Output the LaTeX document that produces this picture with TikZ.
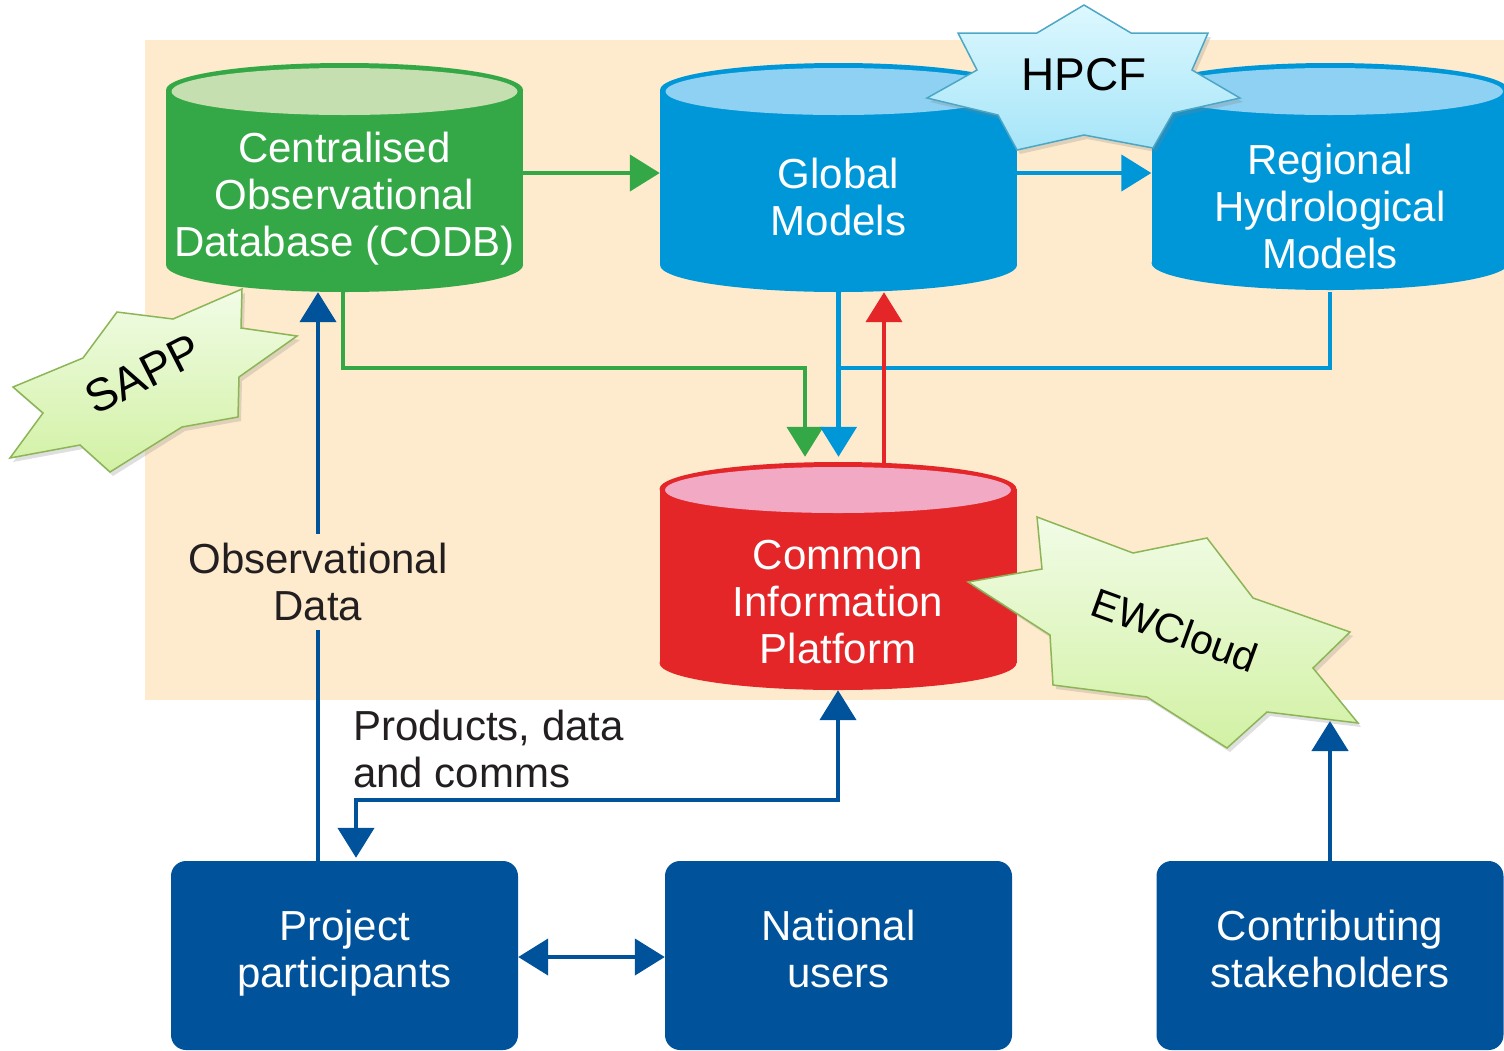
\documentclass[tikz,border=0pt]{standalone}
\usepackage{fontspec}
\setmainfont{Liberation Sans}
\usetikzlibrary{arrows.meta,shadows,calc}
\definecolor{bgbeige}{HTML}{FEEBCD}
\definecolor{cgreen}{HTML}{34A846}
\definecolor{lgreen}{HTML}{C6DFB1}
\definecolor{cblue}{HTML}{0097D9}
\definecolor{lblue}{HTML}{8FD1F3}
\definecolor{cred}{HTML}{E52629}
\definecolor{lpink}{HTML}{F2AAC4}
\definecolor{dkblue}{HTML}{00529B}
\definecolor{txtdark}{HTML}{231F20}
\definecolor{stargreenA}{HTML}{F1FCE6}
\definecolor{stargreenB}{HTML}{D2F1A4}
\definecolor{stargreenD}{HTML}{8CB557}
\definecolor{starblueA}{HTML}{DDF8FF}
\definecolor{starblueB}{HTML}{A6E5F8}
\definecolor{starblueD}{HTML}{4DA7C4}
\begin{document}
\begin{tikzpicture}[x=1pt,y=-1pt,
  lbl/.style={font=\fontsize{42}{47}\selectfont, text=txtdark, align=center, inner sep=0pt},
  wtxt/.style={font=\fontsize{42}{47}\selectfont, text=white, align=center, inner sep=0pt},
  cylbox/.style={minimum width=357pt, minimum height=229pt, inner sep=0pt},
  ubox/.style={fill=dkblue, rounded corners=15pt, minimum width=347pt, minimum height=189pt, inner sep=0pt},
  conn/.style={line width=4.5pt},
  arr/.style={-{Triangle[length=30pt,width=36pt]}},
  dblarr/.style={{Triangle[length=30pt,width=36pt]}-{Triangle[length=30pt,width=36pt]}},
  gstar/.style={draw=stargreenD, line width=1.5pt, top color=stargreenA, bottom color=stargreenB,
     drop shadow={shadow xshift=3pt, shadow yshift=-4pt, opacity=0.25}},
  bstar/.style={draw=starblueD, line width=1.5pt, top color=starblueA, bottom color=starblueB,
     drop shadow={shadow xshift=3pt, shadow yshift=-4pt, opacity=0.25}},
  startxt/.style={text=black, inner sep=0pt}
]
\useasboundingbox (0,0) rectangle (1504,1050);
% background panel
\fill[bgbeige] (145,40) rectangle (1510,700);

% ---- cylinders ----
% CODB
\fill[cgreen] (166,90) rectangle (523,265);
\fill[cgreen] (344.5,90) ellipse[x radius=178.5, y radius=27];
\fill[cgreen] (344.5,265) ellipse[x radius=178.5, y radius=27];
\fill[lgreen] (344.5,91.5) ellipse[x radius=173, y radius=23.5];
% Global Models
\fill[cblue] (660,90) rectangle (1017,265);
\fill[cblue] (838.5,90) ellipse[x radius=178.5, y radius=27];
\fill[cblue] (838.5,265) ellipse[x radius=178.5, y radius=27];
\fill[lblue] (838.5,91.5) ellipse[x radius=173, y radius=23.5];
% Regional Hydrological Models
\fill[cblue] (1151.5,90) rectangle (1508.5,263);
\fill[cblue] (1330,90) ellipse[x radius=178.5, y radius=27];
\fill[cblue] (1330,263) ellipse[x radius=178.5, y radius=27];
\fill[lblue] (1330,91.5) ellipse[x radius=173, y radius=23.5];
% Common Information Platform
\fill[cred] (659.5,489) rectangle (1016.5,663);
\fill[cred] (838,489) ellipse[x radius=178.5, y radius=27];
\fill[cred] (838,663) ellipse[x radius=178.5, y radius=27];
\fill[lpink] (838,490) ellipse[x radius=173, y radius=23];

% named boxes of the cylinders
\node[cylbox] (codb) at (344.5,177.5) {};
\node[cylbox] (gm) at (838.5,177.5) {};
\node[cylbox] (rhm) at (1330,177.5) {};
\node[cylbox, minimum height=228pt] (cip) at (838,576) {};

\node[wtxt] (codbt) at (344.5,199) {Centralised\\Observational\\Database (CODB)};
\node[wtxt] (gmt) at (838.5,197) {Global\\Models};
\node[wtxt] (rhmt) at (1330,206) {Regional\\Hydrological\\Models};
\node[wtxt] (cipt) at (838,602) {Common\\Information\\Platform};

% ---- user boxes ----
\node[ubox] (pp) at (344.5,955.5) {};
\node[ubox] (nu) at (838.5,955.5) {};
\node[ubox] (cs) at (1330,955.5) {};
\node[wtxt] (ppt) at (344.5,953) {Project\\participants};
\node[wtxt] (nut) at (838.5,949) {National\\users};
\node[wtxt] (cst) at (1330,949) {Contributing\\stakeholders};

% ---- connectors ----
\draw[conn, cgreen, arr] ([yshift=4.5pt]codb.east) -- ([yshift=4.5pt]gm.west);
\draw[conn, cblue, arr] ([yshift=4.5pt]gm.east) -- ([yshift=4.5pt]rhm.west);
\draw[conn, cgreen, arr, shorten >=5pt] ([xshift=-1.5pt]codb.south) -- ++(0,76) -| ([xshift=-33pt]cip.north);
\draw[conn, cblue] (rhm.south) |- ([yshift=-76pt]gm.south);
\draw[conn, cblue, arr, shorten >=5pt] (gm.south) -- (gm.south |- cip.north);
\draw[conn, cred, arr] ([xshift=46pt,yshift=-1pt]cip.north) -- ([xshift=45.5pt]gm.south);
\draw[conn, dkblue, arr] ([xshift=-26.5pt]pp.north) --
  node[lbl, pos=0.49, fill=bgbeige, inner xsep=2pt, inner ysep=9pt] (obs) {Observational\\Data}
  ([xshift=-26.5pt]codb.south);
\draw[conn, dkblue, dblarr] ([xshift=11.5pt,yshift=3pt]pp.north) -- ++(0,-58) -| (cip.south);
\node[lbl, align=left, anchor=west] (prod) at (353,749) {Products, data\\and comms};
\draw[conn, dkblue, dblarr] ([yshift=-1.5pt]pp.east) -- ([yshift=-1.5pt]nu.west);
\coordinate (ewtip) at (1330,721);
\draw[conn, dkblue, arr] (cs.north) -- (ewtip);

% ---- stars ----
\path[gstar] (117,312) -- (173,319) -- (242,289) -- (241,328) -- (297,336) -- (239,377)
  -- (238,417) -- (182,427) -- (110,472) -- (80,445) -- (10,458) -- (43,413) -- (13,387) -- (83,358) -- cycle;
\node[startxt, rotate=27, font=\fontsize{46}{52}\selectfont] (sapp) at (143,374) {SAPP};

\path[bstar] (1084,5) -- (1131,33) -- (1208,33) -- (1192,70) -- (1240,98) -- (1173,113)
  -- (1153,148) -- (1084,135) -- (1017,150) -- (998,115) -- (927,98) -- (977,70) -- (958,33) -- (1037,33) -- cycle;
\node[startxt, font=\fontsize{46}{52}\selectfont] (hpcf) at (1084,75) {HPCF};

\path[gstar] (1037,517) -- (1042,569) -- (968,582) -- (1050,635) -- (1053,685) -- (1147,697)
  -- (1227,748) -- (1267,712) -- (1358,723) -- (1313,668) -- (1350,632) -- (1253,598) -- (1207,538) -- (1133,553) -- cycle;
\node[startxt, rotate=-20, font=\fontsize{41}{46}\selectfont] (ewc) at (1175,630) {EWCloud};
\end{tikzpicture}
\end{document}
